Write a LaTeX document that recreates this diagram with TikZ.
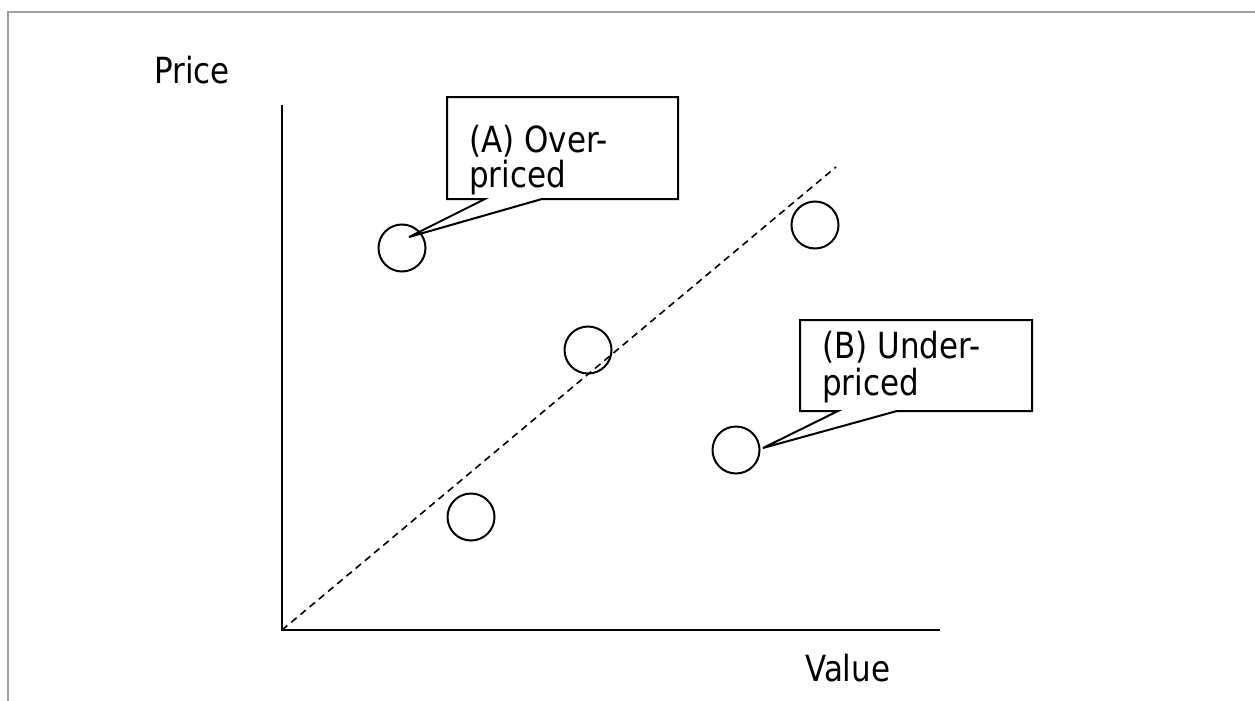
\documentclass[tikz,border=0pt]{standalone}
\usepackage{fontspec}
\setmainfont[FakeStretch=0.86]{DejaVu Sans}
\usetikzlibrary{calc}
\begin{document}
\begin{tikzpicture}[x=1pt,y=-1pt,
  lbl/.style={anchor=base west, inner sep=0, font=\fontsize{36}{36}\selectfont},
  pt/.style={circle, draw, line width=2pt, minimum size=47pt, inner sep=0},
  ax/.style={line width=2pt},
  frame/.style={line width=2.5pt, draw={rgb,255:red,160;green,160;blue,160}},
  cbox/.style={draw=none, rectangle, inner sep=0, outer sep=0, anchor=north west},
  cline/.style={line width=2pt, line join=miter},
  guide/.style={line width=1.6pt, dash pattern=on 7pt off 5pt}]
\useasboundingbox (0,0) rectangle (1255,701);
% frame
\coordinate (f1) at (1255,12);
\coordinate (f2) at (8,12);
\coordinate (f3) at (8,701);
\draw[frame] (f1) -- (f2) -- (f3);
% axes
\coordinate (o) at (282,630);
\coordinate (ytop) at (282,105);
\coordinate (xend) at (940,630);
\coordinate (dend) at (836,167);
\draw[guide] (o) -- (dend);
\draw[ax] (ytop) -- (o) -- (xend);
\node[lbl] (price) at (154,83) {Price};
\node[lbl] (value) at (805,681) {Value};
% points
\node[pt] (p1) at (402,248) {};
\node[pt] (p2) at (588,350) {};
\node[pt] (p3) at (815,225) {};
\node[pt] (p4) at (736,450) {};
\node[pt] (p5) at (471,517) {};
% callout A
\node[cbox, minimum width=231pt, minimum height=102pt] (boxA) at (447,97) {};
\coordinate (tipA) at (409,237);
\draw[cline] ($(boxA.south west)+(38,0)$) -- (boxA.south west) -- (boxA.north west)
  -- (boxA.north east) -- (boxA.south east) -- ($(boxA.south west)+(95,0)$) -- (tipA) -- cycle;
\node[lbl] (a1) at (469,152) {(A) Over-};
\node[lbl] (a2) at (469,187) {priced};
% callout B
\node[cbox, minimum width=232pt, minimum height=91pt] (boxB) at (800,320) {};
\coordinate (tipB) at (763,448);
\draw[cline] ($(boxB.south west)+(38,0)$) -- (boxB.south west) -- (boxB.north west)
  -- (boxB.north east) -- (boxB.south east) -- ($(boxB.south west)+(97,0)$) -- (tipB) -- cycle;
\node[lbl] (b1) at (822,358) {(B) Under-};
\node[lbl] (b2) at (822,395) {priced};
\end{tikzpicture}
\end{document}
